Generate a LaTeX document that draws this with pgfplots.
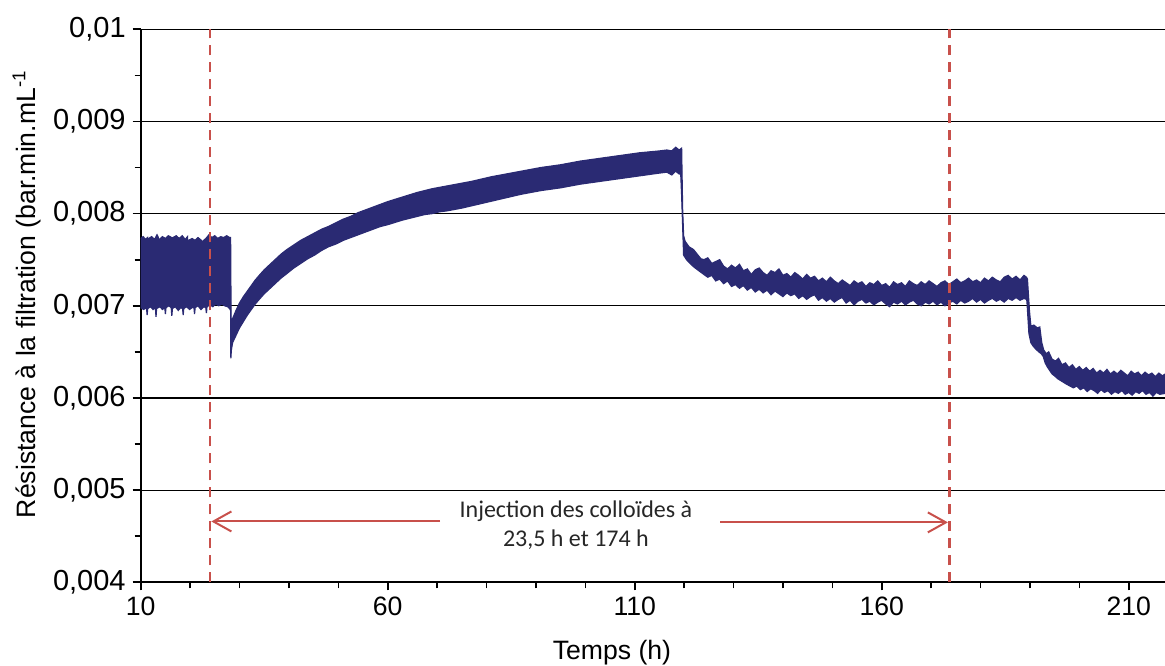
\documentclass[border=0pt]{standalone}
\usepackage{fontspec}
\setmainfont{Liberation Sans}
\newfontfamily\calibri{Carlito}
\usepackage{pgfplots}
\usepackage{pgfplotstable}
\pgfplotsset{compat=1.18}
\usepgfplotslibrary{fillbetween}
\usetikzlibrary{arrows.meta}
\definecolor{navy}{HTML}{2A2A73}
\definecolor{exred}{HTML}{C8504B}

\pgfplotstableread{
x y
10.0 0.00773
10.5 0.00775
11.0 0.00772
11.38 0.00774
11.5 0.00764
11.62 0.00773
12.2 0.00775
12.8 0.00772
13.3 0.00777
13.58 0.00774
13.7 0.00761
13.82 0.00772
14.4 0.00775
15.0 0.00773
15.6 0.00776
16.28 0.00774
16.4 0.00765
16.52 0.00774
17.2 0.00776
17.8 0.00773
18.4 0.00776
19.0 0.00772
19.48 0.00775
19.6 0.00760
19.72 0.00771
20.4 0.00773
21.0 0.00771
21.6 0.00774
22.28 0.00771
22.4 0.00762
22.52 0.00770
23.2 0.00773
23.8 0.00777
24.4 0.00774
25.0 0.00776
25.6 0.00773
26.2 0.00775
26.8 0.00774
27.4 0.00776
28.0 0.00774
28.2 0.00774
28.3 0.00685
28.6 0.00686
29.3 0.00695
30.0 0.00703
30.8 0.00710
31.6 0.00716
32.4 0.00722
33.2 0.00728
34.0 0.00733
35.0 0.00739
36.0 0.00744
37.2 0.00750
38.4 0.00756
39.6 0.00761
41.0 0.00766
42.4 0.00771
43.8 0.00775
45.2 0.00779
46.6 0.00783
48.0 0.00786
49.5 0.00790
51.0 0.00794
52.5 0.00797
54.0 0.00801
55.5 0.00804
57.0 0.00807
58.5 0.00810
60.0 0.00813
61.5 0.008155
63.0 0.00818
64.5 0.008205
66.0 0.00823
67.5 0.00825
69.0 0.00827
70.5 0.008285
72.0 0.00830
73.5 0.008315
75.0 0.00833
77.0 0.00835
79.0 0.008375
81.0 0.00840
83.0 0.00842
85.0 0.00844
87.0 0.00846
89.0 0.00848
91.0 0.00850
93.0 0.008515
95.0 0.00853
97.0 0.00855
99.0 0.00857
101.0 0.008585
103.0 0.00860
105.0 0.008615
107.0 0.00863
109.0 0.008645
111.0 0.00866
113.0 0.00867
115.0 0.00868
116.5 0.00869
117.5 0.00868
118.3 0.00872
119.0 0.00869
119.5 0.00871
119.7 0.00805
119.9 0.00776
120.2 0.00770
121.0 0.00764
121.9 0.00761
122.8 0.00755
123.4 0.00751
124.0 0.00750
124.8 0.00752
125.6 0.00746
126.4 0.00748
127.2 0.00750
128.0 0.00743
128.8 0.00740
129.6 0.00744
130.4 0.00741
131.2 0.00745
132.0 0.00738
132.8 0.00740
133.6 0.00734
134.4 0.00739
135.2 0.00741
136.0 0.00736
136.8 0.00733
137.6 0.00738
138.4 0.00736
139.2 0.00740
140.0 0.00733
140.8 0.00735
141.6 0.00731
142.4 0.00736
143.2 0.00733
144.0 0.00729
144.8 0.00734
145.6 0.00730
146.4 0.00732
147.2 0.00727
148.0 0.00730
148.8 0.00726
149.6 0.00731
150.4 0.00727
151.2 0.00724
152.0 0.00728
152.8 0.00725
153.6 0.00722
154.4 0.00727
155.2 0.00724
156.0 0.00726
156.8 0.00721
157.6 0.00725
158.4 0.00723
159.2 0.00727
160.0 0.00722
160.8 0.00724
161.6 0.00720
162.4 0.00726
163.2 0.00723
164.0 0.00725
164.8 0.00721
165.6 0.00727
166.4 0.00724
167.2 0.00722
168.0 0.00726
168.8 0.00723
169.6 0.00727
170.4 0.00724
171.2 0.00721
172.0 0.00725
172.8 0.00727
173.6 0.00723
174.4 0.00726
175.2 0.00729
176.0 0.00725
176.8 0.00727
177.6 0.00730
178.4 0.00726
179.2 0.00728
180.0 0.00725
180.8 0.00730
181.6 0.00727
182.4 0.00731
183.2 0.00728
184.0 0.00726
184.8 0.00731
185.6 0.00733
186.4 0.00729
187.2 0.00732
188.0 0.00728
188.8 0.00733
189.3 0.00731
189.5 0.00729
189.9 0.00695
190.2 0.00678
190.8 0.00679
191.5 0.00676
192.0 0.00677
192.4 0.00660
192.8 0.00652
193.3 0.00648
193.8 0.00650
194.5 0.00642
195.2 0.00640
195.8 0.00643
196.5 0.00636
197.2 0.00638
197.9 0.00633
198.6 0.00636
199.3 0.00631
200.0 0.00634
200.7 0.00630
201.4 0.00633
202.1 0.00629
202.8 0.00632
203.5 0.00627
204.2 0.00630
204.9 0.00627
205.6 0.00631
206.3 0.00626
207.0 0.00629
207.7 0.00626
208.4 0.00630
209.1 0.00627
209.8 0.00624
210.5 0.00629
211.2 0.00626
211.9 0.00628
212.6 0.00624
213.3 0.00628
214.0 0.00625
214.7 0.00627
215.4 0.00623
216.1 0.00627
216.8 0.00624
217.4 0.00626
}\uppertab

\pgfplotstableread{
x y
10.0 0.00698
10.6 0.00696
11.18 0.00698
11.3 0.00690
11.42 0.00697
12.0 0.00699
12.5 0.00696
12.98 0.00698
13.1 0.00688
13.22 0.00697
13.9 0.00699
14.4 0.00696
14.88 0.00698
15.0 0.00691
15.12 0.00698
15.7 0.00700
16.18 0.00698
16.3 0.00689
16.42 0.00697
17.0 0.00699
17.6 0.00695
18.1 0.00698
18.48 0.00697
18.6 0.00690
18.72 0.00697
19.3 0.00699
19.9 0.00696
20.4 0.00698
20.78 0.00698
20.9 0.00691
21.02 0.00698
21.6 0.00700
22.2 0.00696
22.8 0.00699
23.18 0.00698
23.3 0.00692
23.42 0.00699
24.0 0.00701
24.6 0.00699
25.2 0.00702
25.8 0.00700
26.4 0.00702
27.0 0.00700
27.6 0.00699
28.0 0.00697
28.2 0.00695
28.25 0.00643
28.35 0.00652
28.6 0.00660
29.3 0.00668
30.0 0.00676
30.8 0.00683
31.6 0.00690
32.4 0.00696
33.2 0.00702
34.0 0.00707
35.0 0.00713
36.0 0.00718
37.2 0.00724
38.4 0.00730
39.6 0.00735
41.0 0.00741
42.4 0.00746
43.8 0.00751
45.2 0.00755
46.6 0.00760
48.0 0.00764
49.5 0.00767
51.0 0.00771
52.5 0.00774
54.0 0.00777
55.5 0.00780
57.0 0.00783
58.5 0.00786
60.0 0.00788
61.5 0.007905
63.0 0.00793
64.5 0.00795
66.0 0.00797
67.5 0.00799
69.0 0.00800
70.5 0.00802
72.0 0.00803
73.5 0.008045
75.0 0.00806
77.0 0.008085
79.0 0.00811
81.0 0.008135
83.0 0.00816
85.0 0.008185
87.0 0.00821
89.0 0.00823
91.0 0.00825
93.0 0.008265
95.0 0.00828
97.0 0.00830
99.0 0.00832
101.0 0.008335
103.0 0.00835
105.0 0.008365
107.0 0.00838
109.0 0.008395
111.0 0.00841
113.0 0.008425
115.0 0.00844
116.5 0.00845
117.5 0.00842
118.3 0.00846
119.0 0.00843
119.3 0.00845
119.5 0.00820
119.9 0.00755
120.5 0.00750
121.2 0.00746
122.0 0.00742
123.0 0.00738
124.0 0.00734
124.8 0.00731
125.6 0.00733
126.4 0.00727
127.2 0.00729
128.0 0.00724
128.8 0.00727
129.6 0.00721
130.4 0.00723
131.2 0.00719
132.0 0.00722
132.8 0.00717
133.6 0.00720
134.4 0.00715
135.2 0.00718
136.0 0.00714
136.8 0.00717
137.6 0.00712
138.4 0.00716
139.2 0.00713
140.0 0.00710
140.8 0.00714
141.6 0.00711
142.4 0.00713
143.2 0.00708
144.0 0.00711
144.8 0.00707
145.6 0.00710
146.4 0.00712
147.2 0.00706
148.0 0.00709
148.8 0.00705
149.6 0.00708
150.4 0.00704
151.2 0.00707
152.0 0.00709
152.8 0.00703
153.6 0.00706
154.4 0.00701
155.2 0.00705
156.0 0.00707
156.8 0.00703
157.6 0.00705
158.4 0.00701
159.2 0.00704
160.0 0.00706
160.8 0.00702
161.6 0.00699
162.4 0.00704
163.2 0.00702
164.0 0.00705
164.8 0.00701
165.6 0.00704
166.4 0.00706
167.2 0.00702
168.0 0.00700
168.8 0.00704
169.6 0.00702
170.4 0.00705
171.2 0.00701
172.0 0.00704
172.8 0.00700
173.6 0.00703
174.4 0.00705
175.2 0.00702
176.0 0.00706
176.8 0.00703
177.6 0.00705
178.4 0.00708
179.2 0.00704
180.0 0.00707
180.8 0.00703
181.6 0.00706
182.4 0.00708
183.2 0.00705
184.0 0.00707
184.8 0.00704
185.6 0.00708
186.4 0.00706
187.2 0.00709
188.0 0.00706
188.8 0.00708
189.3 0.00707
189.4 0.00705
189.8 0.00670
190.2 0.00660
190.7 0.00656
191.2 0.00653
191.8 0.00650
192.3 0.00648
192.7 0.00645
193.1 0.00638
193.5 0.00634
194.0 0.00630
194.5 0.00626
195.0 0.00624
195.6 0.00621
196.2 0.00619
196.8 0.00617
197.4 0.00615
198.1 0.00613
198.8 0.00611
199.5 0.00613
200.2 0.00609
200.9 0.00611
201.6 0.00607
202.3 0.00610
203.0 0.00608
203.7 0.00605
204.4 0.00609
205.1 0.00606
205.8 0.00608
206.5 0.00604
207.2 0.00607
207.9 0.00605
208.6 0.00608
209.3 0.00604
210.0 0.00606
210.7 0.00603
211.4 0.00607
212.1 0.00605
212.8 0.00608
213.5 0.00604
214.2 0.00606
214.9 0.00602
215.6 0.00606
216.3 0.00604
217.4 0.00605
}\lowertab

\begin{document}
\begin{tikzpicture}
\begin{axis}[name=ax, scale only axis, width=512.15pt, height=276.5pt,
  xmin=10, xmax=217.35, ymin=0.004, ymax=0.01,
  axis x line=bottom, axis y line=left,
  axis line style={-, line width=0.9pt, black},
  xtick={10,60,110,160,210}, minor x tick num=4,
  ytick={0.004,0.005,0.006,0.007,0.008,0.009,0.01},
  yticklabels={{0,004},{0,005},{0,006},{0,007},{0,008},{0,009},{0,01}},
  scaled y ticks=false,
  minor y tick num=1,
  tick align=outside, major tick length=4pt, minor tick length=3pt,
  tick style={black, line width=0.8pt},
  ymajorgrids, grid style={black, line width=0.6pt},
  ticklabel style={font=\fontsize{13.3}{16}\selectfont},
  yticklabel style={font=\fontsize{14.5}{16}\selectfont},
  /pgf/number format/assume math mode=true,
  xlabel={Temps (h)},
  ylabel={Résistance à la filtration (bar.min.mL\textsuperscript{-1}},
  label style={font=\fontsize{13.3}{16}\selectfont},
  xlabel style={at={(rel axis cs:0.46,-0.128)}, anchor=center},
  ylabel style={at={(rel axis cs:-0.111,0.521)}, anchor=center},
]
\addplot[navy, line width=0.6pt, name path=up] table[x=x,y=y] {\uppertab};
\addplot[navy, line width=0.6pt, name path=lo] table[x=x,y=y] {\lowertab};
\addplot[navy] fill between[of=up and lo];

\addplot[exred, line width=1.2pt, dash pattern=on 5pt off 3.5pt] coordinates {(24,0.004) (24,0.01)};
\addplot[exred, line width=1.2pt, dash pattern=on 5pt off 3.5pt] coordinates {(173.7,0.004) (173.7,0.01)};
\addplot[exred, line width=1pt, -{Straight Barb[length=9pt,width=10pt]}] coordinates {(70.6,0.00466) (24.3,0.00466)};
\addplot[exred, line width=1pt, -{Straight Barb[length=9pt,width=10pt]}] coordinates {(127.3,0.00465) (173.4,0.00465)};
\node[font=\calibri\fontsize{12}{14.5}\selectfont, align=center, text=black!85] at (axis cs:98.1,0.00462) {Injection des colloïdes à\\23,5 h et 174 h};
\end{axis}
\pgfresetboundingbox
\path[use as bounding box] ([xshift=-70.35pt, yshift=-41.85pt]ax.south west) rectangle ([yshift=14.65pt]ax.north east);
\end{tikzpicture}
\end{document}
